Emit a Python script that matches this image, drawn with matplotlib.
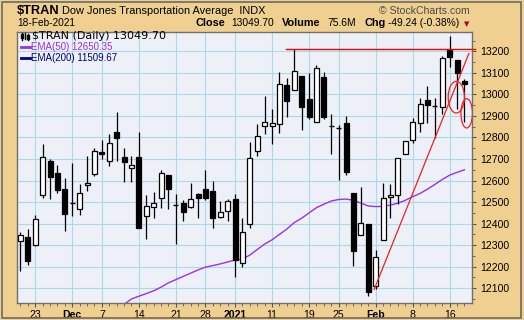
import numpy as np
import pandas as pd
import matplotlib
matplotlib.use("Agg")
import matplotlib.pyplot as plt
from matplotlib.patches import Ellipse, Rectangle
from matplotlib.lines import Line2D

plt.rcParams["font.family"] = ["Liberation Sans", "DejaVu Sans"]

# trading days Nov 19 2020 .. Feb 18 2021 (market holidays removed)
holidays = ["2020-11-26", "2020-12-25", "2021-01-01", "2021-01-18", "2021-02-15"]
dates = pd.bdate_range("2020-11-19", "2021-02-18")
dates = dates[~dates.isin(pd.to_datetime(holidays))]

opens = [12319, 12340, 12303, 12533, 12691, 12636, 12562, 12494, 12466, 12577,
         12631, 12733, 12690, 12827, 12708, 12659, 12711, 12436, 12479, 12520,
         12624, 12485, 12494, 12479, 12536, 12562, 12553, 12433, 12460, 12513,
         12215, 12400, 12739, 12853, 12853, 12862, 13044, 13020, 13086, 12978,
         12872, 13080, 12853, 12844, 12867, 12540, 12349, 12397, 12112, 12323,
         12525, 12531, 12724, 12790, 12867, 12973, 12948, 12941, 13206, 13160,
         13063]
highs = [12363, 12377, 12439, 12770, 12698, 12670, 12610, 12682, 12585, 12713,
         12752, 12790, 12818, 12916, 12753, 12716, 12827, 12531, 12548, 12651,
         12626, 12537, 12510, 12590, 12540, 12651, 12600, 12503, 12516, 12536,
         12428, 12781, 12862, 12993, 12933, 13104, 13075, 13210, 13086, 13101,
         13137, 13104, 12910, 12859, 12901, 12540, 12568, 12397, 12278, 12590,
         12582, 12705, 12784, 12890, 12983, 13037, 12983, 13180, 13271, 13160,
         13072]
lows = [12181, 12209, 12294, 12520, 12513, 12540, 12366, 12436, 12440, 12551,
        12621, 12698, 12667, 12690, 12593, 12593, 12378, 12328, 12425, 12471,
        12470, 12306, 12411, 12471, 12428, 12510, 12379, 12426, 12412, 12151,
        12200, 12379, 12713, 12818, 12768, 12821, 12895, 13020, 12833, 12886,
        12872, 12886, 12725, 12602, 12625, 12204, 12349, 12066, 12097, 12323,
        12425, 12490, 12724, 12775, 12827, 12867, 12798, 12909, 13129, 12933,
        12870]
closes = [12349, 12228, 12423, 12711, 12617, 12556, 12446, 12495, 12543, 12587,
          12738, 12724, 12775, 12796, 12685, 12670, 12380, 12483, 12497, 12636,
          12562, 12486, 12454, 12516, 12520, 12520, 12426, 12456, 12507, 12231,
          12359, 12705, 12807, 12872, 12867, 13049, 12969, 13108, 12940, 12893,
          13121, 12893, 12854, 12845, 12639, 12274, 12405, 12084, 12246, 12520,
          12531, 12705, 12784, 12872, 12956, 12950, 12949, 13168, 13175, 13099,
          13049.70]

# EMA(50) from Dec 9 (index 14) onward
ema50_start = 14
ema50 = [12025, 12050, 12063, 12075, 12088, 12105, 12125, 12140, 12155, 12170,
         12185, 12198, 12205, 12213, 12222, 12231, 12236, 12254, 12280, 12305,
         12325, 12350, 12375, 12405, 12425, 12450, 12474, 12490, 12505, 12512,
         12514, 12508, 12495, 12482, 12479, 12480, 12486, 12495, 12508, 12525,
         12540, 12560, 12582, 12605, 12625, 12638, 12650]

tick_dates = ["2020-11-23", "2020-12-01", "2020-12-07", "2020-12-14", "2020-12-21",
              "2020-12-28", "2021-01-04", "2021-01-11", "2021-01-19", "2021-01-25",
              "2021-02-01", "2021-02-08", "2021-02-16"]
tick_labels = ["23", "Dec", "7", "14", "21", "28", "2021", "11", "19", "25", "Feb", "8", "16"]
bold_labels = ["Dec", "2021", "Feb"]

# annotations drawn on the chart
resist_level = 13209
resist_x = [35.9, 61.4]
trend_x = [47.8, 60.6]
trend_y = [12095, 13190]

W, H = 524, 320
bg = "#EFD091"
fig = plt.figure(figsize=(W / 100, H / 100), dpi=100, facecolor=bg)

def fx(x):
    return x / W

def fy(y):
    return 1 - y / H

ax = fig.add_axes([fx(16.5), fy(303.3), fx(471.5) - fx(16.5), fy(31.7) - fy(303.3)])
ax.set_facecolor("#EEF0F8")

xs = np.arange(len(dates))
bw = 0.66
for i in xs:
    o, h, l, c = opens[i], highs[i], lows[i], closes[i]
    ax.vlines(i, l, h, color="black", lw=0.9, zorder=3)
    if abs(c - o) < 3:
        ax.hlines(o, i - bw / 2, i + bw / 2, color="black", lw=1.0, zorder=4)
    else:
        face = "white" if c > o else "black"
        ax.bar(i, abs(c - o), bottom=min(o, c), width=bw, color=face,
               edgecolor="black", linewidth=0.9, zorder=4)

ax.plot(xs[ema50_start:], ema50, color="#9B30E8", lw=1.0, zorder=2)

# horizontal resistance, trend line and circled candles
ax.plot(resist_x, [resist_level, resist_level], color="#FF0000", lw=1.0,
        zorder=5, clip_on=False)
ax.plot(trend_x, trend_y, color="#F02020", lw=0.9, zorder=5)
ax.add_patch(Ellipse((58.9, 12987), 2.2, 147, fill=False, edgecolor="#F02020", lw=0.9, zorder=6))
ax.add_patch(Ellipse((60.3, 12912), 1.55, 136, fill=False, edgecolor="#F02020", lw=0.9, zorder=6))

ax.set_xlim(-0.54, 60.95)
ax.set_ylim(12030, 13291)

# axes ticks
tpos = [int(np.where(dates == pd.Timestamp(d))[0][0]) for d in tick_dates]
ax.set_xticks(tpos)
ax.set_xticklabels(tick_labels)
for t in ax.get_xticklabels():
    if t.get_text() in bold_labels:
        t.set_fontweight("bold")
ax.set_xticks(xs, minor=True)
ax.set_yticks(np.arange(12100, 13201, 100))
ax.set_yticks(np.arange(12050, 13291, 50), minor=True)
ax.yaxis.tick_right()
ax.tick_params(axis="y", which="major", length=3, labelsize=7.6, pad=3, color="#555555")
ax.tick_params(axis="y", which="minor", length=2, color="#555555")
ax.tick_params(axis="x", which="major", length=3, labelsize=7.6, pad=1.5, color="#555555")
ax.tick_params(axis="x", which="minor", length=2, color="#555555")
ax.grid(True, which="major", color="#AADAE8", lw=0.8, zorder=0)
ax.set_axisbelow(True)
for s in ax.spines.values():
    s.set_color("#707070")
    s.set_linewidth(1.0)

# legend block inside the plot
fig.text(fx(32), fy(36), "$TRAN (Daily) 13049.70", fontsize=8, va="center",
         color="black", family="DejaVu Sans")
fig.text(fx(31), fy(47.3), "EMA(50) 12650.35", fontsize=7.0, va="center", color="#9B30E8")
fig.text(fx(31), fy(58.3), "EMA(200) 11509.67", fontsize=7.0, va="center", color="#000080")
fig.add_artist(Line2D([fx(20.5), fx(29.5)], [fy(47.3)] * 2, color="#9B30E8", lw=2))
fig.add_artist(Line2D([fx(20.5), fx(29.5)], [fy(58.3)] * 2, color="#000080", lw=2))
# tiny candle icon
for cx, top, bot in [(22, 33, 39.5), (25, 32.5, 39), (28, 34, 39.5)]:
    fig.add_artist(Line2D([fx(cx)] * 2, [fy(top), fy(bot)], color="black", lw=1))
fig.add_artist(Rectangle((fx(21.3), fy(38)), fx(1.5), fy(34.5) - fy(38), color="black"))
fig.add_artist(Rectangle((fx(27.3), fy(38.5)), fx(1.5), fy(35.5) - fy(38.5), color="black"))

# header text
fig.text(fx(17), fy(10.5), "$TRAN", fontsize=9.2, fontweight="bold", va="center")
fig.text(fx(62), fy(10.5), "Dow Jones Transportation Average  INDX", fontsize=7.9, va="center")
fig.text(fx(470), fy(10.5), "\u00a9 StockCharts.com", fontsize=7.6, va="center", ha="right",
         color="#4A4A4A")
fig.text(fx(17), fy(23.3), "18-Feb-2021", fontsize=7.3, va="center")
hdr = [(196, "Close", "bold"), (231, "13049.70", "normal"),
       (281.7, "Volume", "bold"), (327, "75.6M", "normal"),
       (364.3, "Chg", "bold"), (388.3, "-49.24 (-0.38%)", "normal")]
for x, s, w in hdr:
    fig.text(fx(x), fy(23.3), s, fontsize=7.8 if w == "bold" else 7.4, fontweight=w, va="center")
fig.text(fx(466.7), fy(23.8), "\u25bc", fontsize=5, va="center", ha="center",
         color="#B00020", family="DejaVu Sans")

# outer border
fig.add_artist(Rectangle((fx(2), fy(318)), fx(519), fy(2) - fy(318), fill=False,
                         edgecolor="#6A6A6A", lw=1.2))

fig.savefig("out.png", dpi=100, facecolor=bg)
